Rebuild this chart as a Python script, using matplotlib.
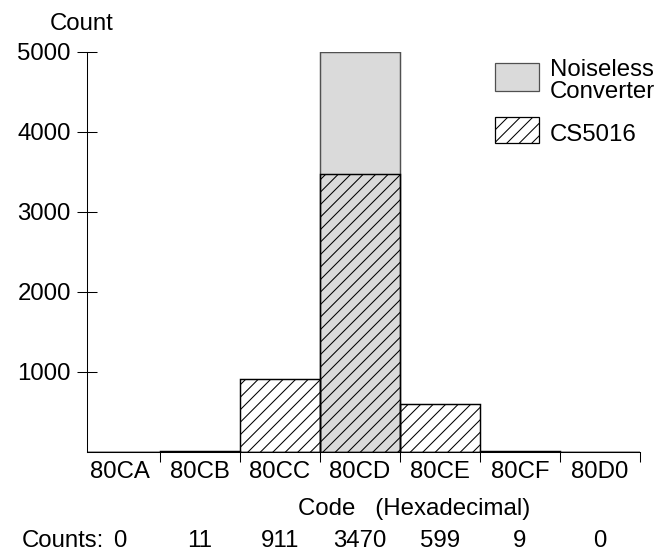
import matplotlib.pyplot as plt
from matplotlib.patches import Rectangle

# Histogram of output codes (CS5016 vs noiseless converter)
codes = ["80CA", "80CB", "80CC", "80CD", "80CE", "80CF", "80D0"]
cs5016_counts = [0, 11, 911, 3470, 599, 9, 0]
noiseless_counts = [0, 0, 0, 5000, 0, 0, 0]
y_ticks = [1000, 2000, 3000, 4000, 5000]

plt.rcParams['font.family'] = ['Liberation Sans', 'DejaVu Sans']
plt.rcParams['hatch.linewidth'] = 1.0

DPI = 75
fig = plt.figure(figsize=(658 / DPI, 552 / DPI), dpi=DPI)
ax = fig.add_axes([87 / 658, 100 / 552, 553 / 658, 400 / 552])

fs = 23
x = list(range(len(codes)))

# noiseless converter: all samples in one code
ax.bar(x, noiseless_counts, width=1.0, color='#dadada', edgecolor='#505050',
       linewidth=1.4, zorder=1)
# CS5016 distribution, hatched and see-through
ax.bar(x, cs5016_counts, width=1.0, color='none', edgecolor='black',
       hatch='//', linewidth=1.4, zorder=2)

ax.set_xlim(-0.5 + 7 / 80, 6.5)
ax.set_ylim(0, 5000)
ax.spines['top'].set_visible(False)
ax.spines['right'].set_visible(False)
for s in ['left', 'bottom']:
    ax.spines[s].set_linewidth(1.0)

ax.set_yticks(y_ticks)
ax.set_yticklabels([str(v) for v in y_ticks], fontsize=fs)
ax.tick_params(axis='y', direction='inout', length=19, width=1.0, pad=6)

# edge ticks between codes, labels in the middle of each bin
ax.set_xticks([i + 0.5 for i in x])
ax.set_xticklabels([])
ax.tick_params(axis='x', which='major', direction='out', length=9.6, width=1.0)
ax.set_xticks(x, minor=True)
ax.set_xticklabels(codes, minor=True, fontsize=fs)
ax.tick_params(axis='x', which='minor', length=0, pad=9)

ax.text(-0.009, 1.07, "Count", transform=ax.transAxes, ha='center',
        va='center', fontsize=fs)

# legend drawn by hand
ax.add_patch(Rectangle((0.7378, 0.9025), 0.0796, 0.07, transform=ax.transAxes,
                       facecolor='#dadada', edgecolor='#505050', linewidth=1.2,
                       clip_on=False))
ax.add_patch(Rectangle((0.7378, 0.7725), 0.0796, 0.065, transform=ax.transAxes,
                       facecolor='none', edgecolor='black', hatch='//',
                       linewidth=1.2, clip_on=False))
ax.text(0.837, 0.9275, "Noiseless\nConverter", transform=ax.transAxes,
        ha='left', va='center', fontsize=fs, linespacing=1.0)
ax.text(0.837, 0.7925, "CS5016", transform=ax.transAxes, ha='left',
        va='center', fontsize=fs)

fig.text(414 / 658, 1 - 509 / 552, "Code   (Hexadecimal)", ha='center',
         va='center', fontsize=fs)

# counts row under the axis
row_y = 1 - 541 / 552
fig.text(22 / 658, row_y, "Counts:", ha='left', va='center', fontsize=fs)
trans = ax.get_xaxis_transform()
for xi, c in zip(x, cs5016_counts):
    ax.text(xi, (row_y - 100 / 552) / (400 / 552), str(c), transform=trans,
            ha='center', va='center', fontsize=fs, clip_on=False)

fig.savefig("out.png", dpi=DPI)
